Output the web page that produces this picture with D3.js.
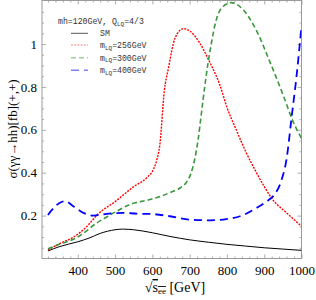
<!DOCTYPE html>
<html>
<head>
<meta charset="utf-8">
<script src="https://cdn.jsdelivr.net/npm/d3@7"></script>
<style>
  body { margin: 0; background: #fff; }
  svg { display: block; }
</style>
</head>
<body>
<div id="chart"></div>
<script>
// sqrt(s_ee) in GeV and cross sections in fb
const smX   = [320, 350, 400, 430, 460, 500, 520, 550, 600, 650, 700, 750, 800, 850, 900, 950, 1000];
const smY   = [0.035, 0.055, 0.078, 0.095, 0.117, 0.134, 0.137, 0.134, 0.12, 0.102, 0.087, 0.076, 0.066, 0.058, 0.05, 0.044, 0.038];

const lq256X = [320, 350, 400, 430, 450, 500, 550, 585, 603, 612, 620, 632, 643, 661, 683, 701, 727, 754, 781, 800, 825, 850, 875, 900, 925, 960, 1000];
const lq256Y = [0.04, 0.068, 0.113, 0.16, 0.2, 0.265, 0.335, 0.377, 0.416, 0.46, 0.53, 0.78, 0.887, 1.028, 1.072, 1.06, 1.005, 0.915, 0.809, 0.705, 0.6, 0.5, 0.414, 0.336, 0.27, 0.213, 0.15];

const lq300X = [320, 350, 400, 416, 451, 480, 504, 540, 594, 647, 675, 690, 702, 712, 723, 732, 741, 750, 760, 768, 786, 812, 843, 880, 915, 951, 978, 1000];
const lq300Y = [0.045, 0.066, 0.1, 0.119, 0.166, 0.196, 0.22, 0.252, 0.275, 0.307, 0.33, 0.352, 0.39, 0.45, 0.558, 0.683, 0.809, 0.918, 1.02, 1.09, 1.169, 1.193, 1.161, 1.06, 0.918, 0.761, 0.636, 0.56];

const lq400X = [320, 335, 350, 366, 388, 415, 442, 478, 522, 558, 594, 647, 701, 754, 799, 835, 880, 910, 924, 947, 960, 973, 987, 1000];
const lq400Y = [0.203, 0.235, 0.258, 0.267, 0.244, 0.213, 0.2, 0.208, 0.213, 0.209, 0.208, 0.197, 0.181, 0.178, 0.184, 0.197, 0.236, 0.27, 0.291, 0.369, 0.464, 0.652, 0.855, 1.085];

const xMajor = [400, 500, 600, 700, 800, 900, 1000];
const yMajor = [0.2, 0.4, 0.6, 0.8, 1];

const width = 316, height = 300;
const plotL = 42, plotR = 301.5, plotT = 0.5, plotB = 258.5;

const svg = d3.select('#chart').append('svg')
    .attr('width', width)
    .attr('height', height);

const x = d3.scaleLinear().domain([304, 1000]).range([plotL, plotR]);
const y = d3.scaleLinear().domain([0, 1.203]).range([plotB, plotT]);

const xMinor = d3.range(320, 1001, 20).filter(v => !xMajor.includes(v));
const yMinor = d3.range(0.05, 1.2, 0.05).map(v => +v.toFixed(2)).filter(v => !yMajor.some(m => Math.abs(m - v) < 1e-6));

const frameColor = '#9a9a9a';
const serif = '"Liberation Serif", "DejaVu Serif", serif';

// inward ticks on all four sides
function tickGroup(axisFn, scale, vals, size, tx, ty, labels) {
    const g = svg.append('g').attr('transform', `translate(${tx}, ${ty})`)
        .call(axisFn(scale).tickValues(vals).tickSize(-size).tickPadding(labels ? 7 : 0)
            .tickFormat(labels ? d3.format('') : ''));
    g.select('.domain').remove();
    g.selectAll('line').attr('stroke', frameColor).attr('stroke-width', 0.8);
    return g;
}

const bx = tickGroup(d3.axisBottom, x, xMajor, 4, 0, plotB, true);
tickGroup(d3.axisBottom, x, xMinor, 2, 0, plotB, false);
tickGroup(d3.axisTop, x, xMajor, 4, 0, plotT, false);
tickGroup(d3.axisTop, x, xMinor, 2, 0, plotT, false);
const ly = tickGroup(d3.axisLeft, y, yMajor, 4, plotL, 0, true);
tickGroup(d3.axisLeft, y, yMinor, 2, plotL, 0, false);
tickGroup(d3.axisRight, y, yMajor, 4, plotR, 0, false);
tickGroup(d3.axisRight, y, yMinor, 2, plotR, 0, false);

bx.selectAll('text').attr('font-family', serif).attr('font-size', 13).attr('fill', '#000');
ly.selectAll('text').attr('font-family', serif).attr('font-size', 13).attr('fill', '#000')
    .attr('x', -5);

svg.append('rect')
    .attr('x', plotL).attr('y', plotT)
    .attr('width', plotR - plotL).attr('height', plotB - plotT)
    .attr('fill', 'none').attr('stroke', frameColor).attr('stroke-width', 1);

// curves
const series = [
    {xs: smX, ys: smY, color: '#000', dash: null, w: 1},
    {xs: lq256X, ys: lq256Y, color: '#ff0000', dash: '2,1.2', w: 1.4},
    {xs: lq300X, ys: lq300Y, color: '#3c963c', dash: '5,3', w: 1.6},
    {xs: lq400X, ys: lq400Y, color: '#0000ff', dash: '8,5', w: 1.8}
];

const line = d3.line()
    .x(d => x(d[0]))
    .y(d => y(d[1]))
    .curve(d3.curveMonotoneX);

const plot = svg.append('g');
plot.append('clipPath').attr('id', 'clip').append('rect')
    .attr('x', plotL).attr('y', plotT).attr('width', plotR - plotL).attr('height', plotB - plotT);

series.forEach(s => {
    plot.append('path')
        .datum(d3.zip(s.xs, s.ys))
        .attr('clip-path', 'url(#clip)')
        .attr('d', line)
        .attr('fill', 'none')
        .attr('stroke', s.color)
        .attr('stroke-width', s.w)
        .attr('stroke-dasharray', s.dash);
});

// legend
const mono = '"Liberation Mono", "DejaVu Sans Mono", monospace';
const legend = svg.append('g').attr('font-family', mono).attr('font-size', 8.2).attr('fill', '#333');

const head = legend.append('text').attr('x', 58).attr('y', 24);
head.append('tspan').text('mh=120GeV, Q');
head.append('tspan').attr('font-size', 6).attr('dy', 1.5).text('LQ');
head.append('tspan').attr('dy', -1.5).text('=4/3');

const legendItems = [
    {label: 'SM', color: '#555', dash: null, w: 1},
    {label: '256', color: '#ff8080', dash: '2,1.2', w: 1},
    {label: '300', color: '#9fd09f', dash: '5,3', w: 1.4},
    {label: '400', color: '#7f7fff', dash: '8,5', w: 1.4}
];
const rowY = [33.3, 45, 57.7, 70.3];

legendItems.forEach((it, i) => {
    legend.append('line')
        .attr('x1', 71).attr('x2', 88)
        .attr('y1', rowY[i]).attr('y2', rowY[i])
        .attr('stroke', it.color).attr('stroke-width', it.w)
        .attr('stroke-dasharray', it.dash);
    const t = legend.append('text').attr('x', 100).attr('y', rowY[i] + 3);
    if (it.label === 'SM') {
        t.text('SM');
    } else {
        t.append('tspan').text('m');
        t.append('tspan').attr('font-size', 6).attr('dy', 1.5).text('LQ');
        t.append('tspan').attr('dy', -1.5).text('=' + it.label + 'GeV');
    }
});

// axis titles
const xt = svg.append('text')
    .attr('x', 175).attr('y', 292)
    .attr('text-anchor', 'middle')
    .attr('font-family', serif).attr('font-size', 14).attr('fill', '#000');
xt.append('tspan').text('\u221A');
xt.append('tspan').attr('text-decoration', 'overline').text('s');
xt.append('tspan').attr('font-size', 9).attr('dy', 2).attr('text-decoration', 'overline').text('ee');
xt.append('tspan').attr('dy', -2).text(' [GeV]');

svg.append('text')
    .attr('transform', `translate(17, 129) rotate(-90)`)
    .attr('text-anchor', 'middle')
    .attr('font-family', serif).attr('font-size', 13).attr('fill', '#000')
    .text('\u03C3(\u03B3\u03B3\u2192hh)[fb](+,+)');
</script>
</body>
</html>
